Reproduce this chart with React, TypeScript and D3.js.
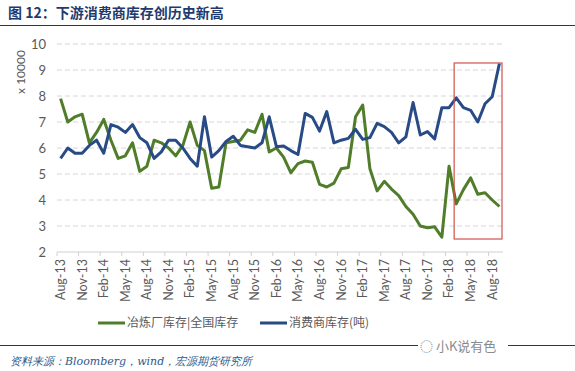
import React from 'react';
import * as d3 from 'd3';

// monthly categories, Aug-13 .. Sep-18
const months = [
  'Aug-13', 'Sep-13', 'Oct-13', 'Nov-13', 'Dec-13', 'Jan-14', 'Feb-14', 'Mar-14', 'Apr-14', 'May-14',
  'Jun-14', 'Jul-14', 'Aug-14', 'Sep-14', 'Oct-14', 'Nov-14', 'Dec-14', 'Jan-15', 'Feb-15', 'Mar-15',
  'Apr-15', 'May-15', 'Jun-15', 'Jul-15', 'Aug-15', 'Sep-15', 'Oct-15', 'Nov-15', 'Dec-15', 'Jan-16',
  'Feb-16', 'Mar-16', 'Apr-16', 'May-16', 'Jun-16', 'Jul-16', 'Aug-16', 'Sep-16', 'Oct-16', 'Nov-16',
  'Dec-16', 'Jan-17', 'Feb-17', 'Mar-17', 'Apr-17', 'May-17', 'Jun-17', 'Jul-17', 'Aug-17', 'Sep-17',
  'Oct-17', 'Nov-17', 'Dec-17', 'Jan-18', 'Feb-18', 'Mar-18', 'Apr-18', 'May-18', 'Jun-18', 'Jul-18',
  'Aug-18', 'Sep-18',
];

// 冶炼厂库存|全国库存 (x 10000)
const smelterStock = [
  7.9, 7.0, 7.2, 7.3, 6.2, 6.6, 7.1, 6.3, 5.6, 5.7,
  6.2, 5.1, 5.3, 6.3, 6.2, 6.0, 5.7, 6.1, 7.0, 6.1,
  5.9, 4.45, 4.5, 6.2, 6.25, 6.3, 6.7, 6.6, 7.3, 5.85,
  6.0, 5.65, 5.05, 5.4, 5.5, 5.45, 4.6, 4.5, 4.65, 5.2,
  5.25, 7.2, 7.65, 5.2, 4.35, 4.72, 4.42, 4.17, 3.75, 3.45,
  3.0, 2.93, 2.97, 2.57, 5.3, 3.85, 4.4, 4.85, 4.22, 4.28,
  4.0, 3.75,
];

// 消费商库存(吨) (x 10000)
const consumerStock = [
  5.6, 6.0, 5.8, 5.8, 6.1, 6.3, 5.8, 6.9, 6.8, 6.6,
  6.9, 6.4, 6.2, 5.6, 5.85, 6.3, 6.3, 6.0, 5.6, 5.3,
  7.2, 5.65, 5.9, 6.25, 6.45, 6.1, 6.05, 6.0, 6.2, 7.2,
  6.05, 6.08, 5.9, 5.75, 7.33, 7.18, 6.65, 7.4, 6.2, 6.3,
  6.37, 6.72, 6.33, 6.4, 6.95, 6.82, 6.6, 6.2, 6.43, 7.75,
  6.5, 6.63, 6.35, 7.55, 7.55, 7.93, 7.55, 7.45, 7.0, 7.7,
  7.97, 9.25,
];

const yTicks = [2, 3, 4, 5, 6, 7, 8, 9, 10];
const seriesNames = ['冶炼厂库存|全国库存', '消费商库存(吨)'];
const seriesColors = ['#507D2A', '#284B86'];

// highlighted window
const highlightFrom = 'Mar-18';
const highlightRange = [2.5, 9.27];

const W = 575;
const H = 371;
const labelFont = 'Lato, "Open Sans", sans-serif';
const cjkFont = '"Noto Sans CJK SC", sans-serif';

export default function App() {
  const x = d3.scaleBand<string>().domain(months).range([57, 503]);
  const y = d3.scaleLinear().domain([2, 10]).range([252, 44]);
  const cx = (i: number) => (x(months[i]) as number) + x.bandwidth() / 2;

  const line = d3.line<number>()
    .x((_, i) => cx(i))
    .y(d => y(d));

  const [x0, x1] = x.range();
  const hx = (x(highlightFrom) as number) + 1.5;

  return (
    <svg width={W} height={H} style={{ position: 'absolute', left: 0, top: 0, background: '#fff' }}>
      {/* title */}
      <text x={8} y={18} fontFamily={cjkFont} fontWeight="bold" fontSize={14} fill="#1F3A6E">
        图 12：下游消费商库存创历史新高
      </text>
      <line x1={0} x2={W} y1={25.5} y2={25.5} stroke="#7B1A1A" strokeWidth={1.2} />

      {/* grid */}
      {yTicks.map(t => (
        <g key={t}>
          {t > 2 && (
            <line x1={x0} x2={x1} y1={y(t)} y2={y(t)} stroke="#D6D6D6" strokeDasharray="5,3" />
          )}
          <text x={46} y={y(t)} dy="0.35em" textAnchor="end" fontFamily={labelFont} fontSize={13} fill="#595959">
            {t}
          </text>
        </g>
      ))}
      <text
        transform={`translate(21,72) rotate(-90)`}
        textAnchor="middle"
        dy="0.35em"
        fontFamily={labelFont}
        fontSize={12}
        fill="#595959"
      >
        x 10000
      </text>

      {/* x axis */}
      <line x1={x0} x2={x1} y1={y(2)} y2={y(2)} stroke="#D0D0D0" />
      {months.map((m, i) => i % 3 === 0 && (
        <g key={m}>
          <line x1={x(m)} x2={x(m)} y1={y(2)} y2={y(2) + 4} stroke="#D0D0D0" />
          <text
            transform={`translate(${cx(i)},${y(2) + 7}) rotate(-90)`}
            textAnchor="end"
            dy="0.35em"
            fontFamily={labelFont}
            fontSize={12.5}
            fill="#595959"
          >
            {m}
          </text>
        </g>
      ))}

      {/* series */}
      <path d={line(smelterStock) ?? ''} fill="none" stroke={seriesColors[0]} strokeWidth={3} strokeLinejoin="round" />
      <path d={line(consumerStock) ?? ''} fill="none" stroke={seriesColors[1]} strokeWidth={3} strokeLinejoin="round" />

      {/* highlight box */}
      <rect
        x={hx}
        y={y(highlightRange[1])}
        width={x1 - 1 - hx}
        height={y(highlightRange[0]) - y(highlightRange[1])}
        fill="none"
        stroke="#D0504C"
        strokeWidth={1.2}
      />

      {/* legend */}
      {seriesNames.map((name, i) => {
        const lx = i === 0 ? 98 : 260;
        return (
          <g key={name}>
            <line x1={lx} x2={lx + 27} y1={323} y2={323} stroke={seriesColors[i]} strokeWidth={3} />
            <text x={lx + 29} y={323} dy="0.35em" fontFamily={cjkFont} fontSize={12} fill="#595959">
              {name}
            </text>
          </g>
        );
      })}

      {/* footer */}
      <line x1={0} x2={W} y1={345.5} y2={345.5} stroke="#7B1A1A" strokeWidth={1.2} />
      <rect x={418} y={336} width={90} height={18} fill="#fff" />
      <text x={420} y={346} dy="0.35em" fontFamily={cjkFont} fontSize={13} fill="#8A8A8A">
        ◌ 小K说有色
      </text>
      <text
        x={10}
        y={365}
        fontFamily='"DejaVu Serif", serif'
        fontStyle="italic"
        fontSize={11}
        fill="#2A5A8C"
      >
        资料来源：Bloomberg，wind，宏源期货研究所
      </text>
    </svg>
  );
}
